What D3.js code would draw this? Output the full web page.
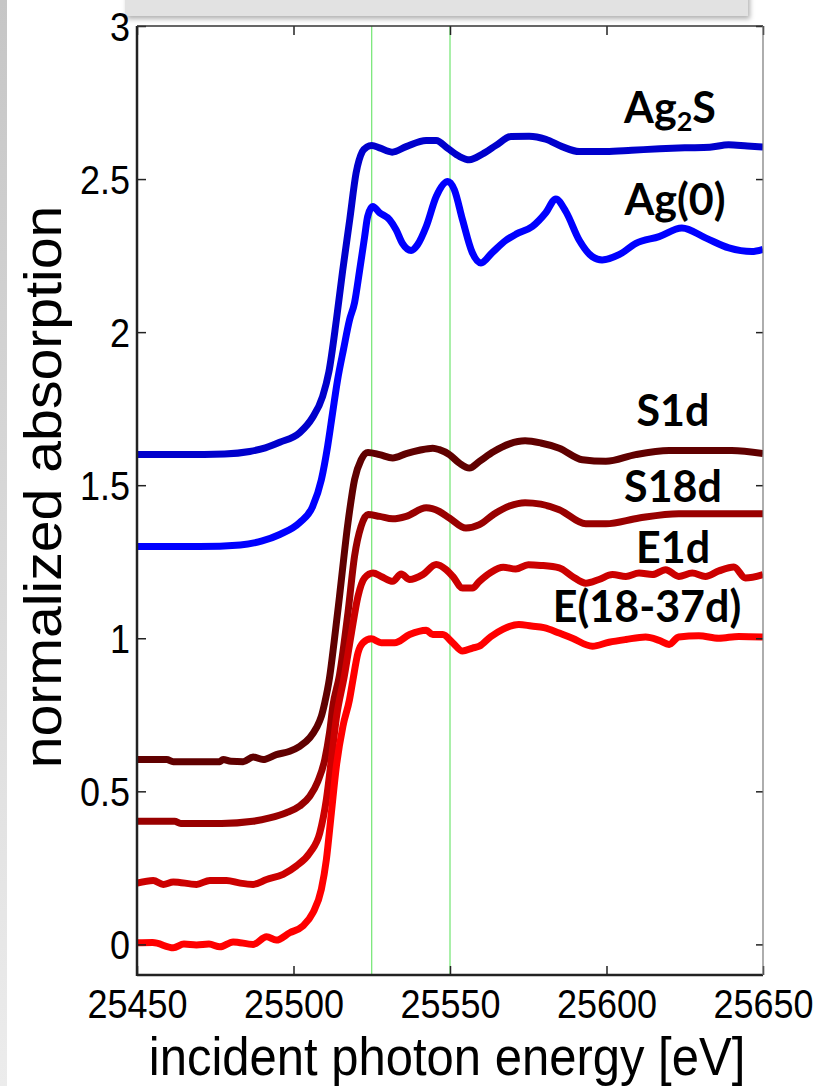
<!DOCTYPE html>
<html>
<head>
<meta charset="utf-8">
<script src="https://cdn.jsdelivr.net/npm/d3@7"></script>
<style>
  body { margin: 0; background: #fff; }
  svg { display: block; }
</style>
</head>
<body>
<svg id="chart" width="816" height="1086"></svg>
<script>

// energy [eV] vs normalized absorption
var ag2s = [[25450,1.600],[25465,1.600],[25478,1.602],[25486,1.610],[25491,1.622],[25495.6,1.640],[25502,1.672],[25506,1.720],[25509.3,1.790],[25511.3,1.870],[25513.7,2.040],[25515.7,2.200],[25518,2.370],[25520,2.520],[25522,2.590],[25523.5,2.605],[25525,2.610],[25527.5,2.602],[25531.5,2.588],[25536,2.606],[25542.4,2.626],[25545.6,2.626],[25549.3,2.600],[25553,2.574],[25556.2,2.563],[25560.4,2.582],[25564.7,2.610],[25569.5,2.639],[25575.3,2.640],[25580.6,2.630],[25585.8,2.606],[25591.3,2.590],[25599.8,2.590],[25608,2.594],[25617,2.599],[25625,2.602],[25633,2.604],[25639,2.612],[25645,2.608],[25650,2.605]]

var ag0 = [[25450,1.300],[25470,1.300],[25483,1.305],[25490,1.318],[25495.6,1.339],[25502,1.378],[25506.1,1.430],[25508.9,1.518],[25510.9,1.627],[25512.5,1.737],[25514.1,1.845],[25516,1.945],[25517.9,2.040],[25519.5,2.096],[25521.1,2.200],[25522.7,2.310],[25523.7,2.378],[25525.3,2.410],[25527.5,2.390],[25530.7,2.367],[25532.8,2.334],[25534.8,2.290],[25537.6,2.267],[25539.6,2.285],[25542.4,2.345],[25545.6,2.443],[25549.3,2.492],[25551.4,2.465],[25554,2.367],[25557.1,2.260],[25559.9,2.226],[25563.5,2.260],[25567.9,2.300],[25571.1,2.320],[25576.3,2.345],[25580.6,2.390],[25583.8,2.435],[25587,2.394],[25591.3,2.300],[25595.4,2.247],[25598.6,2.236],[25604,2.253],[25609.4,2.290],[25616.8,2.312],[25624.1,2.340],[25631.8,2.307],[25639.1,2.275],[25646.4,2.263],[25650,2.270]]

var s1d = [[25450,0.604],[25459.5,0.604],[25461.6,0.597],[25476.5,0.597],[25477.5,0.604],[25480,0.598],[25483.9,0.597],[25487.1,0.612],[25490.3,0.604],[25494.5,0.620],[25498.8,0.631],[25502,0.647],[25505.2,0.675],[25507.3,0.707],[25508.9,0.745],[25510,0.790],[25511.5,0.870],[25513,0.990],[25514.7,1.137],[25517.4,1.377],[25519.5,1.518],[25521.6,1.583],[25523.8,1.607],[25527.5,1.600],[25531.7,1.589],[25536,1.603],[25540.2,1.614],[25544.5,1.621],[25546.6,1.616],[25549.8,1.600],[25553,1.572],[25556.2,1.556],[25559.4,1.578],[25564,1.610],[25569,1.635],[25574,1.645],[25579,1.638],[25584.9,1.621],[25592.3,1.583],[25599.8,1.578],[25609.3,1.600],[25620,1.613],[25640,1.613],[25650,1.603]]

var s18d = [[25450,0.402],[25462,0.402],[25464,0.395],[25477,0.395],[25487,0.402],[25492.4,0.413],[25497.7,0.430],[25502,0.452],[25505.2,0.484],[25507.8,0.533],[25510,0.604],[25511.5,0.691],[25512.6,0.780],[25514.7,0.880],[25517.4,1.083],[25519.5,1.268],[25521.6,1.366],[25523.8,1.404],[25527.5,1.398],[25531.7,1.390],[25536,1.398],[25542.4,1.426],[25546.6,1.414],[25549.8,1.393],[25555.1,1.360],[25559.4,1.371],[25564,1.405],[25569,1.432],[25574,1.443],[25579,1.438],[25584.9,1.420],[25593.4,1.374],[25599.8,1.374],[25610.4,1.393],[25623.1,1.407],[25650,1.407]]

var e1d = [[25450,0.200],[25455.2,0.209],[25458.4,0.196],[25461.6,0.204],[25469,0.196],[25473.3,0.209],[25478.6,0.209],[25483,0.200],[25487.1,0.196],[25491.4,0.212],[25496.7,0.229],[25500.9,0.256],[25505.2,0.299],[25508.4,0.364],[25510.5,0.473],[25512.1,0.604],[25513.7,0.740],[25516.3,0.880],[25518.5,1.017],[25520.6,1.137],[25522.7,1.197],[25525.4,1.213],[25528,1.202],[25531.7,1.186],[25534.4,1.210],[25537.1,1.192],[25541.3,1.208],[25545.6,1.241],[25548.8,1.224],[25550.9,1.202],[25554,1.164],[25557.2,1.164],[25559.4,1.186],[25563,1.215],[25567,1.232],[25571,1.226],[25575,1.240],[25579,1.238],[25584.9,1.230],[25589.1,1.202],[25593.4,1.180],[25597.6,1.192],[25601.9,1.208],[25606.2,1.202],[25610.4,1.213],[25614.7,1.208],[25618.9,1.224],[25623.1,1.202],[25627.4,1.213],[25631.6,1.202],[25635.9,1.220],[25640.7,1.233],[25644.4,1.197],[25650,1.208]]

var e18_37d = [[25450,0.005],[25455,0.006],[25461.6,-0.011],[25465,0.001],[25469,-0.002],[25473,0.001],[25476.5,-0.008],[25480.7,0.008],[25487.1,0.000],[25491.4,0.025],[25494.5,0.014],[25498.8,0.038],[25503,0.060],[25506.2,0.103],[25508.9,0.180],[25510.5,0.277],[25512.1,0.430],[25513.7,0.582],[25515.8,0.713],[25517.9,0.800],[25519,0.865],[25520.6,0.952],[25522.2,0.985],[25524.8,0.998],[25528,0.985],[25532.3,0.985],[25537.1,1.012],[25542.4,1.026],[25544.5,1.012],[25547.7,1.012],[25550.9,0.985],[25554,0.958],[25557.2,0.968],[25559.4,0.974],[25563,1.005],[25567,1.030],[25572,1.045],[25576,1.040],[25580,1.035],[25584.9,1.017],[25589.1,1.000],[25595.5,0.974],[25600.8,0.987],[25606.2,0.996],[25612.5,1.004],[25616.8,0.993],[25620,0.980],[25623.1,1.004],[25629.5,1.008],[25635.9,1.000],[25642.3,1.006],[25650,1.004]]

var series_names = ["Ag\u2082S", "Ag(0)", "S1d", "S18d", "E1d", "E(18-37d)"]
var series_data = [ag2s, ag0, s1d, s18d, e1d, e18_37d]
var series_colors = ["#0000cc", "#0000ff", "#600000", "#990000", "#cc0000", "#ff0000"]

var x_ticks = [25450, 25500, 25550, 25600, 25650]
var y_ticks = [0, 0.5, 1, 1.5, 2, 2.5, 3]
var marker_lines = [25525, 25550]

var x_title = "incident photon energy [eV]"
var y_title = "normalized absorption"

// ---- layout (window.top is read only, so prefixed names)
var plot_left = 137, plot_right = 763, plot_top = 26, plot_bottom = 975

var svg = d3.select("#chart")

var x = d3.scaleLinear().domain([25450, 25650]).range([plot_left, plot_right])
var y = d3.scaleLinear().domain([-0.1, 3]).range([plot_bottom, plot_top])

var defs = svg.append("defs")

var grad = defs.append("linearGradient").attr("id", "leftstrip")
  .attr("x1", 0).attr("y1", 0).attr("x2", 0).attr("y2", 1)
grad.append("stop").attr("offset", "0").attr("stop-color", "#c6c6c6")
grad.append("stop").attr("offset", "1").attr("stop-color", "#ececec")

defs.append("filter").attr("id", "shadow")
  .attr("x", "-5%").attr("y", "-50%").attr("width", "110%").attr("height", "250%")
  .append("feDropShadow")
    .attr("dx", 2).attr("dy", 3).attr("stdDeviation", 2.5)
    .attr("flood-color", "#000").attr("flood-opacity", 0.3)

defs.append("clipPath").attr("id", "plotclip")
  .append("rect")
    .attr("x", plot_left).attr("y", plot_top)
    .attr("width", plot_right - plot_left).attr("height", plot_bottom - plot_top)

// background bits of the slide
svg.append("rect")
  .attr("x", 0).attr("y", 0).attr("width", 7).attr("height", 1086)
  .attr("fill", "url(#leftstrip)")

svg.append("rect")
  .attr("x", 125).attr("y", -10).attr("width", 623).attr("height", 26)
  .attr("fill", "#e2e2e2")
  .attr("filter", "url(#shadow)")

// vertical marker lines
svg.append("g").selectAll("line")
  .data(marker_lines)
  .join("line")
    .attr("x1", function(d){ return x(d) }).attr("x2", function(d){ return x(d) })
    .attr("y1", plot_top).attr("y2", plot_bottom)
    .attr("stroke", "#55e055")
    .attr("stroke-width", 1)

// curves
var line = d3.line()
  .x(function(d){ return x(d[0]) })
  .y(function(d){ return y(d[1]) })
  .curve(d3.curveMonotoneX)

svg.append("g").attr("clip-path", "url(#plotclip)")
  .selectAll("path")
  .data(series_data)
  .join("path")
    .attr("fill", "none")
    .attr("stroke", function(d, i){ return series_colors[i] })
    .attr("stroke-width", 7)
    .attr("stroke-linejoin", "round")
    .attr("d", line)

// axes, matlab style inward ticks
var tick_font = "'Liberation Sans', Arial, sans-serif"

var gx = svg.append("g").attr("transform", "translate(0," + plot_bottom + ")")
  .call(d3.axisBottom(x).tickValues(x_ticks).tickSizeInner(-9).tickSizeOuter(0).tickFormat(d3.format("d")))
gx.select(".domain").remove()
gx.selectAll(".tick line").attr("stroke", "#222").attr("stroke-width", 1.5)
gx.selectAll(".tick text")
  .attr("y", null).attr("dy", null)
  .attr("transform", "translate(0,43) scale(1,1.12)")
  .attr("font-family", tick_font).attr("font-size", 36).attr("fill", "#000")

var gt = svg.append("g").attr("transform", "translate(0," + plot_top + ")")
  .call(d3.axisTop(x).tickValues(x_ticks).tickSizeInner(-9).tickSizeOuter(0).tickFormat(""))
gt.select(".domain").remove()
gt.selectAll(".tick line").attr("stroke", "#222").attr("stroke-width", 1.5)

var gy = svg.append("g").attr("transform", "translate(" + plot_left + ",0)")
  .call(d3.axisLeft(y).tickValues(y_ticks).tickSizeInner(-9).tickSizeOuter(0).tickFormat(d3.format("~g")))
gy.select(".domain").remove()
gy.selectAll(".tick line").attr("stroke", "#222").attr("stroke-width", 1.5)
gy.selectAll(".tick text")
  .attr("x", null).attr("dy", null)
  .attr("text-anchor", "end")
  .attr("transform", "translate(-7,14) scale(1,1.12)")
  .attr("font-family", tick_font).attr("font-size", 36).attr("fill", "#000")

var gr = svg.append("g").attr("transform", "translate(" + plot_right + ",0)")
  .call(d3.axisRight(y).tickValues(y_ticks).tickSizeInner(-7).tickSizeOuter(0).tickFormat(""))
gr.select(".domain").remove()
gr.selectAll(".tick line").attr("stroke", "#222").attr("stroke-width", 1.5)

// frame
svg.append("line").attr("x1", plot_left).attr("x2", plot_left).attr("y1", plot_top).attr("y2", plot_bottom + 1)
  .attr("stroke", "#222").attr("stroke-width", 2.5)
svg.append("line").attr("x1", plot_left).attr("x2", plot_right).attr("y1", plot_bottom).attr("y2", plot_bottom)
  .attr("stroke", "#222").attr("stroke-width", 2.5)
svg.append("line").attr("x1", plot_left).attr("x2", plot_right).attr("y1", plot_top).attr("y2", plot_top)
  .attr("stroke", "#333").attr("stroke-width", 1.5)
svg.append("line").attr("x1", plot_right).attr("x2", plot_right).attr("y1", plot_top).attr("y2", plot_bottom)
  .attr("stroke", "#777").attr("stroke-width", 1.2)

// axis titles
svg.append("text")
  .attr("transform", "translate(447,1075) scale(1,1.1)")
  .attr("text-anchor", "middle")
  .attr("font-family", tick_font).attr("font-size", 49).attr("fill", "#000")
  .text(x_title)

svg.append("text")
  .attr("transform", "translate(61,487) rotate(-90) scale(1.1,1)")
  .attr("text-anchor", "middle")
  .attr("font-family", tick_font).attr("font-size", 52).attr("fill", "#000")
  .text(y_title)

// curve labels
var label_pos = [[670, 123], [675, 215], [673, 426], [673, 502], [673, 563], [647, 622]]

var labels = svg.append("g")
  .attr("font-family", "Lato, 'Open Sans', sans-serif")
  .attr("font-weight", "bold")
  .attr("font-size", 43)
  .attr("fill", "#000")
  .attr("text-anchor", "middle")

series_names.forEach(function(name, i){
  var t = labels.append("text")
    .attr("transform", "translate(" + label_pos[i][0] + "," + label_pos[i][1] + ") scale(1,1.02)")
  if (i == 0) {
    t.append("tspan").text("Ag")
    t.append("tspan").attr("font-size", 27).attr("dy", 8).text("2")
    t.append("tspan").attr("dy", -8).text("S")
  } else {
    t.text(name)
  }
})

</script>
</body>
</html>
